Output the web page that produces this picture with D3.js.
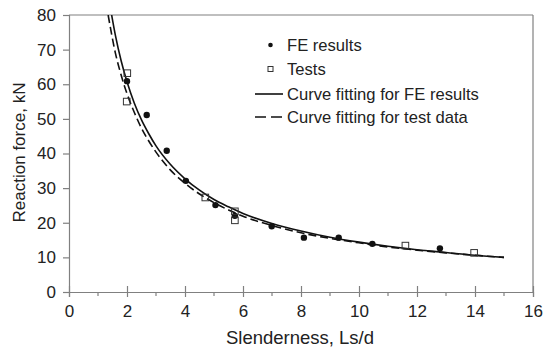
<!DOCTYPE html>
<html><head><meta charset="utf-8">
<script src="https://cdn.jsdelivr.net/npm/d3@7"></script>
<style>body{margin:0;background:#fff}svg{display:block}text{font-family:"Liberation Sans",Arial,sans-serif;fill:#222}</style>
</head><body>
<script>
// Data
const feX = [2.0, 2.68, 3.37, 4.03, 5.05, 5.72, 6.99, 8.10, 9.30, 10.46, 12.79];
const feY = [60.9, 51.1, 40.8, 32.1, 25.1, 22.0, 19.0, 15.7, 15.7, 13.9, 12.6];
const testX = [2.01, 1.99, 4.70, 5.72, 5.72, 11.60, 13.97];
const testY = [63.2, 55.0, 27.3, 23.3, 20.7, 13.4, 11.3];
const fitFEX = [1.47, 1.6, 1.8, 2, 2.25, 2.5, 2.75, 3, 3.5, 4, 4.5, 5, 5.5, 6, 7, 8, 9, 10, 11, 12, 13, 14, 15];
const fitFEY = [80, 74.1, 66.7, 60.7, 54.6, 49.7, 45.7, 42.2, 36.8, 32.7, 29.4, 26.7, 24.6, 22.7, 19.8, 17.6, 15.8, 14.4, 13.2, 12.2, 11.4, 10.6, 10.0];
const fitTestX = [1.35, 1.6, 1.8, 2, 2.25, 2.5, 2.75, 3, 3.5, 4, 4.5, 5, 5.5, 6, 7, 8, 9, 10, 11, 12, 13, 14, 15];
const fitTestY = [80, 69.0, 62.6, 57.3, 51.9, 47.3, 43.6, 40.4, 35.2, 31.4, 28.3, 25.8, 23.7, 21.9, 19.2, 17.1, 15.5, 14.2, 13.0, 12.1, 11.3, 10.6, 10.0];
const xTicks = [0, 2, 4, 6, 8, 10, 12, 14, 16];
const xMinor = [1, 3, 5, 7, 9, 11, 13, 15];
const yTicks = [0, 10, 20, 30, 40, 50, 60, 70, 80];
const legendLabels = ["FE results", "Tests", "Curve fitting for FE results", "Curve fitting for test data"];

const W = 544, H = 353;
const L = 69, R = 533, T = 15, B = 292;
const svg = d3.select("body").append("svg").attr("width", W).attr("height", H);
const x = d3.scaleLinear().domain([0, 16]).range([L, R]);
const y = d3.scaleLinear().domain([0, 80]).range([B, T]);
const axisCol = "#808080";
const FONT = '"Liberation Sans",Arial,sans-serif';

svg.append("defs").append("clipPath").attr("id", "clip")
  .append("rect").attr("x", L).attr("y", T).attr("width", R - L).attr("height", B - T);

// frame top and right
svg.append("line").attr("x1", L).attr("x2", R).attr("y1", T).attr("y2", T).attr("stroke", axisCol).attr("stroke-width", 1.2);
svg.append("line").attr("x1", R).attr("x2", R).attr("y1", T).attr("y2", B).attr("stroke", axisCol).attr("stroke-width", 1.2);

// x axis
const gx = svg.append("g").attr("transform", `translate(0,${B})`)
  .call(d3.axisBottom(x).tickValues(xTicks).tickSize(5).tickPadding(8).tickFormat(d3.format("d")));
gx.selectAll(".tick line").attr("y1", -6).attr("stroke", axisCol).attr("stroke-width", 1.2);
gx.select(".domain").attr("stroke", axisCol).attr("stroke-width", 1.2);
gx.selectAll(".tick text").attr("font-size", 17).attr("fill", "#222").attr("font-family", FONT);
gx.selectAll(".minor").data(xMinor).enter().append("line").attr("class", "minor")
  .attr("x1", d => x(d)).attr("x2", d => x(d)).attr("y1", 0).attr("y2", 4).attr("stroke", axisCol).attr("stroke-width", 1.2);

// y axis
const gy = svg.append("g").attr("transform", `translate(${L},0)`)
  .call(d3.axisLeft(y).tickValues(yTicks).tickSize(6).tickPadding(7).tickFormat(d3.format("d")));
gy.selectAll(".tick line").attr("stroke", axisCol).attr("stroke-width", 1.2);
gy.select(".domain").attr("stroke", axisCol).attr("stroke-width", 1.2);
gy.selectAll(".tick text").attr("font-size", 17).attr("fill", "#222").attr("font-family", FONT);

// titles
svg.append("text").attr("x", 300).attr("y", 344).attr("text-anchor", "middle").attr("font-size", 18.5).text("Slenderness, Ls/d");
svg.append("text").attr("transform", `translate(25,152.5) rotate(-90)`).attr("text-anchor", "middle").attr("font-size", 17).text("Reaction force, kN");

// curves
const plot = svg.append("g").attr("clip-path", "url(#clip)");
const line = d3.line().x(d => x(d[0])).y(d => y(d[1])).curve(d3.curveMonotoneX);
plot.append("path").datum(fitTestX.map((v, i) => [v, fitTestY[i]])).attr("d", line)
  .attr("fill", "none").attr("stroke", "#111").attr("stroke-width", 1.6).attr("stroke-dasharray", "8,4");
plot.append("path").datum(fitFEX.map((v, i) => [v, fitFEY[i]])).attr("d", line)
  .attr("fill", "none").attr("stroke", "#111").attr("stroke-width", 1.6);

// points
svg.selectAll(".fe").data(feX.map((v, i) => [v, feY[i]])).enter().append("circle")
  .attr("cx", d => x(d[0])).attr("cy", d => y(d[1])).attr("r", 3.2).attr("fill", "#111");
svg.selectAll(".ts").data(testX.map((v, i) => [v, testY[i]])).enter().append("rect")
  .attr("x", d => x(d[0]) - 3.3).attr("y", d => y(d[1]) - 3.3).attr("width", 6.6).attr("height", 6.6)
  .attr("fill", "none").attr("stroke", "#333").attr("stroke-width", 1);

// legend
const lg = svg.append("g");
const rowY = [45, 69, 94, 117];
lg.append("circle").attr("cx", 270.5).attr("cy", rowY[0]).attr("r", 2.3).attr("fill", "#111");
lg.append("rect").attr("x", 268).attr("y", rowY[1] - 2.5).attr("width", 5).attr("height", 5).attr("fill", "none").attr("stroke", "#333").attr("stroke-width", 1);
lg.append("line").attr("x1", 255).attr("x2", 283).attr("y1", rowY[2]).attr("y2", rowY[2]).attr("stroke", "#111").attr("stroke-width", 1.6);
lg.append("line").attr("x1", 255).attr("x2", 283).attr("y1", rowY[3]).attr("y2", rowY[3]).attr("stroke", "#111").attr("stroke-width", 1.6).attr("stroke-dasharray", "11,5");
lg.selectAll("text").data(legendLabels).enter().append("text")
  .attr("x", 287).attr("y", (d, i) => rowY[i]).attr("dy", "0.35em").attr("font-size", 16.6).text(d => d);
</script>
</body></html>
